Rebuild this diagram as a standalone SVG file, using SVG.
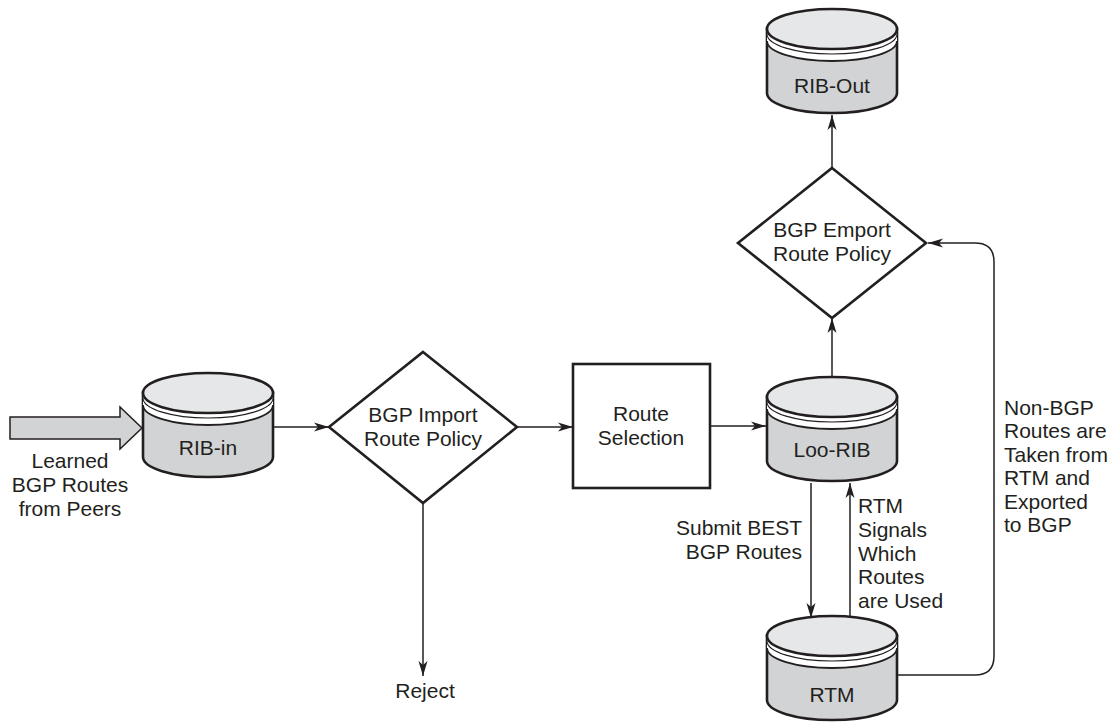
<svg xmlns="http://www.w3.org/2000/svg" xmlns:xlink="http://www.w3.org/1999/xlink" width="1117" height="722" viewBox="0 0 1117 722">
<style>
  text { font-family: "Liberation Sans", Arial, sans-serif; font-size: 21px; fill: #231f20; }
  .c { text-anchor: middle; }
  .e { text-anchor: end; }
  .shape { fill: #ffffff; stroke: #231f20; stroke-width: 2.6; }
  .conn { fill: none; stroke: #231f20; stroke-width: 1.5; }
</style>
<defs>
  <marker id="arr" markerUnits="userSpaceOnUse" markerWidth="16" markerHeight="12" viewBox="0 0 16 12" refX="15" refY="6" orient="auto">
    <path d="M0,1.5 L15,6 L0,10.5 L4,6 Z" fill="#231f20"/>
  </marker>
  <g id="cyl">
    <path d="M-65,20 L-65,84 A65,20 0 0 0 65,84 L65,20 Z" fill="#d1d3d4" stroke="#231f20" stroke-width="2.6"/>
    <path d="M-65,20 A65,20 0 0 0 65,20 L65,32 A65,20 0 0 1 -65,32 Z" fill="#ffffff"/>
    <path d="M-65,25 A65,20 0 0 0 65,25" fill="none" stroke="#231f20" stroke-width="1.1"/>
    <path d="M-65,32 A65,20 0 0 0 65,32" fill="none" stroke="#231f20" stroke-width="1.8"/>
    <ellipse cx="0" cy="20" rx="65" ry="20" fill="#e6e7e8" stroke="#231f20" stroke-width="2.6"/>
  </g>
</defs>
<rect width="1117" height="722" fill="#ffffff"/>

<g id="connectors">
  <line class="conn" x1="274" y1="427" x2="329" y2="427" marker-end="url(#arr)"/>
  <line class="conn" x1="517" y1="427" x2="573" y2="427" marker-end="url(#arr)"/>
  <line class="conn" x1="710" y1="426" x2="766" y2="426" marker-end="url(#arr)"/>
  <line class="conn" x1="423" y1="503" x2="423" y2="676" marker-end="url(#arr)"/>
  <line class="conn" x1="832" y1="377" x2="832" y2="318" marker-end="url(#arr)"/>
  <line class="conn" x1="832" y1="168" x2="832" y2="115" marker-end="url(#arr)"/>
  <line class="conn" x1="811" y1="483" x2="811" y2="618" marker-end="url(#arr)"/>
  <line class="conn" x1="850" y1="618" x2="850" y2="483" marker-end="url(#arr)"/>
  <path class="conn" d="M898,675 L975,675 Q994,675 994,656 L994,262 Q994,243 975,243 L928,243" marker-end="url(#arr)"/>
</g>

<g id="learned-arrow">
  <polygon points="10,417 120,417 120,407 142,428 120,449 120,439 10,439" fill="#d1d3d4" stroke="#231f20" stroke-width="1.5" stroke-linejoin="miter"/>
  <text class="c" x="70" y="468">Learned</text>
  <text class="c" x="70" y="492">BGP Routes</text>
  <text class="c" x="70" y="516">from Peers</text>
</g>

<g id="rib-in">
  <use xlink:href="#cyl" href="#cyl" transform="translate(208,373)"/>
  <text class="c" x="208" y="455">RIB-in</text>
</g>

<g id="import-policy">
  <polygon class="shape" points="423,352 517,427 423,503 329,427"/>
  <text class="c" x="423" y="422">BGP Import</text>
  <text class="c" x="423" y="446">Route Policy</text>
</g>

<g id="reject">
  <text class="c" x="425" y="698">Reject</text>
</g>

<g id="route-selection">
  <rect class="shape" x="573" y="364" width="137" height="124"/>
  <text class="c" x="641" y="421">Route</text>
  <text class="c" x="641" y="445">Selection</text>
</g>

<g id="loo-rib">
  <use xlink:href="#cyl" href="#cyl" transform="translate(832,377)"/>
  <text class="c" x="832" y="457">Loo-RIB</text>
</g>

<g id="emport-policy">
  <polygon class="shape" points="832,168 926,243 832,318 738,243"/>
  <text class="c" x="832" y="237">BGP Emport</text>
  <text class="c" x="832" y="261">Route Policy</text>
</g>

<g id="rib-out">
  <use xlink:href="#cyl" href="#cyl" transform="translate(832,9)"/>
  <text class="c" x="832" y="93">RIB-Out</text>
</g>

<g id="rtm">
  <use xlink:href="#cyl" href="#cyl" transform="translate(832,616)"/>
  <text class="c" x="832" y="702">RTM</text>
</g>

<g id="labels">
  <text class="e" x="802" y="535">Submit BEST</text>
  <text class="e" x="802" y="559">BGP Routes</text>
  <text x="858" y="513">RTM</text>
  <text x="858" y="537">Signals</text>
  <text x="858" y="561">Which</text>
  <text x="858" y="584">Routes</text>
  <text x="858" y="608">are Used</text>
  <text x="1004" y="415">Non-BGP</text>
  <text x="1004" y="438">Routes are</text>
  <text x="1004" y="462">Taken from</text>
  <text x="1004" y="485">RTM and</text>
  <text x="1004" y="509">Exported</text>
  <text x="1004" y="532">to BGP</text>
</g>
</svg>
